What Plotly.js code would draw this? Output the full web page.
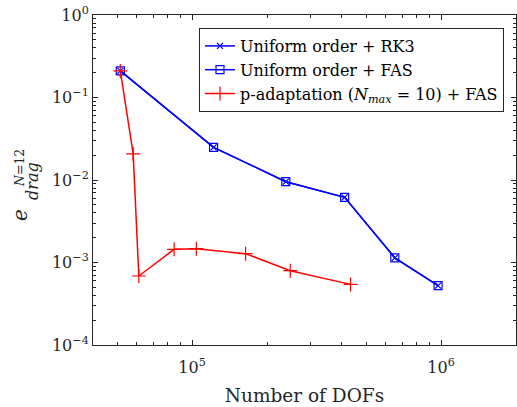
<!DOCTYPE html>
<html><head><meta charset="utf-8">
<script src="https://cdn.plot.ly/plotly-3.0.1.min.js"></script>
<style>body{margin:0;padding:0;background:#fff}#plot{width:517px;height:407px}</style>
</head><body><div id="plot"></div>
<script>
// Uniform order (RK3 and FAS share the same points)
const uniformDofs = [5.15e4, 1.22e5, 2.38e5, 4.10e5, 6.52e5, 9.73e5];
const uniformRK3 = [0.21, 0.0249, 0.00954, 0.00617, 0.00114, 0.000524];
const uniformFAS = [0.21, 0.0249, 0.00954, 0.00617, 0.00114, 0.000524];
// p-adaptation (Nmax = 10) + FAS
const padaptDofs = [5.15e4, 5.80e4, 6.11e4, 8.47e4, 1.04e5, 1.64e5, 2.48e5, 4.33e5];
const padaptErr = [0.21, 0.0207, 0.000686, 0.001445, 0.00147, 0.00128, 0.000796, 0.000543];
const seriesNames = ['Uniform order + RK3', 'Uniform order + FAS', 'p-adaptation (<i>N</i><sub><i>max</i></sub> = 10) + FAS'];
// Tick labels
const xTickVals = [1e5, 1e6];
const xTickText = ['10<sup>5</sup>', '10<sup>6</sup>'];
const yTickVals = [1e-4, 1e-3, 1e-2, 1e-1, 1];
const yTickText = ['10<sup>\u22124</sup>', '10<sup>\u22123</sup>', '10<sup>\u22122</sup>', '10<sup>\u22121</sup>', '10<sup>0</sup>'];

const font = 'DejaVu Serif';
const traces = [
  {x: uniformDofs, y: uniformRK3, name: seriesNames[0], mode: 'lines+markers',
   line: {color: '#0000ff', width: 1.5},
   marker: {symbol: 'x-thin-open', size: 6, color: '#0000ff', line: {color: '#0000ff', width: 1.2}}},
  {x: uniformDofs, y: uniformFAS, name: seriesNames[1], mode: 'lines+markers',
   line: {color: '#0000ff', width: 1.5},
   marker: {symbol: 'square-open', size: 8, color: '#0000ff', line: {color: '#0000ff', width: 1.2}}},
  {x: padaptDofs, y: padaptErr, name: seriesNames[2], mode: 'lines+markers',
   line: {color: '#ff0000', width: 1.5},
   marker: {symbol: 'cross-thin-open', size: 10, color: '#ff0000', line: {color: '#ff0000', width: 1.2}}}
];

const axisCommon = {
  type: 'log', showline: true, linecolor: '#262626', linewidth: 1, mirror: 'ticks',
  ticks: 'inside', ticklen: 5, tickcolor: '#262626', showgrid: false, zeroline: false,
  tickmode: 'array', tickfont: {family: font, size: 16, color: '#262626'},
  minor: {ticks: 'inside', ticklen: 3, tickcolor: '#262626', dtick: 'D1', showgrid: false}
};

function ann(text, px, py, size) {
  return {xref: 'paper', yref: 'paper', x: 0, y: 0, xshift: px - 93, yshift: 345 - py,
    text: text, textangle: -90, showarrow: false, xanchor: 'center', yanchor: 'middle',
    font: {family: font, size: size, color: '#262626'}};
}

const layout = {
  width: 517, height: 407,
  margin: {l: 93, r: 1, t: 15, b: 62},
  paper_bgcolor: '#fff', plot_bgcolor: '#fff',
  showlegend: true,
  legend: {x: 0.9716, y: 0.9606, xanchor: 'right', yanchor: 'top',
    bgcolor: '#fff', bordercolor: '#262626', borderwidth: 1,
    font: {family: font, size: 16, color: '#000'}, tracegroupgap: 0},
  xaxis: Object.assign({}, axisCommon, {
    range: [Math.log10(4e4), Math.log10(2e6)],
    tickvals: xTickVals, ticktext: xTickText, ticklabelstandoff: 8,
    title: {text: 'Number of DOFs', font: {family: font, size: 18.5, color: '#262626'}, standoff: 12}
  }),
  yaxis: Object.assign({}, axisCommon, {range: [-4, 0], tickvals: yTickVals, ticktext: yTickText}),
  annotations: [
    ann('<i>e</i>', 20, 215, 20),
    ann('<i>drag</i>', 32, 181, 16),
    ann('<i>N</i>=12', 19, 168, 12.5)
  ]
};

Plotly.newPlot('plot', traces, layout, {displayModeBar: false, staticPlot: true});
</script></body></html>
